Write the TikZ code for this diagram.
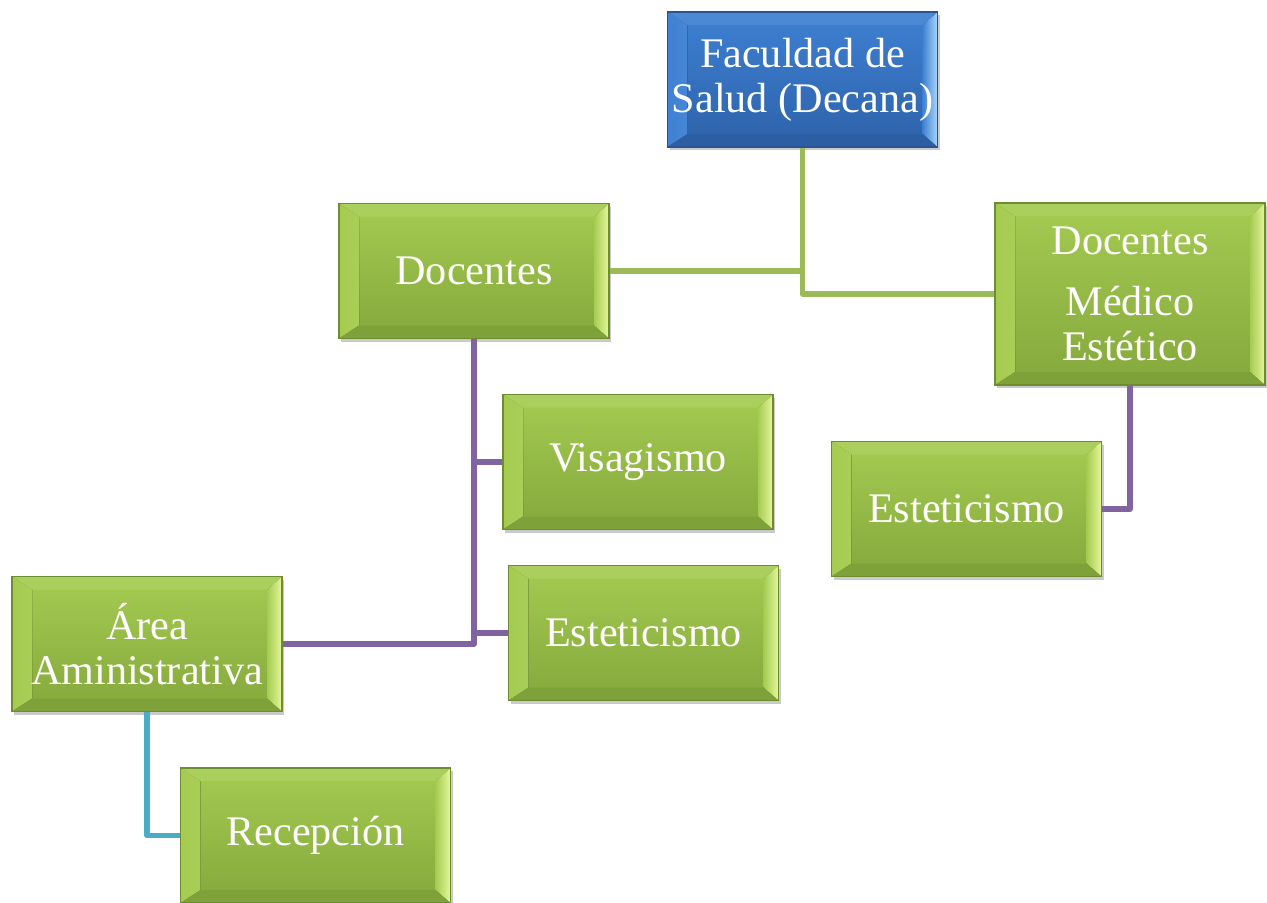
\documentclass[tikz,border=0pt]{standalone}
\usepackage{fontspec}
\setmainfont{Liberation Serif}
\usetikzlibrary{calc,shadows}
\definecolor{verdeArr}{HTML}{A5CB51}
\definecolor{verdeAba}{HTML}{84A83C}
\definecolor{verdeClaro}{HTML}{E6F79C}
\definecolor{verdeBorde}{HTML}{6E8C30}
\definecolor{azulArr}{HTML}{3E80D2}
\definecolor{azulAba}{HTML}{2D62AA}
\definecolor{azulClaro}{HTML}{A9D6FA}
\definecolor{azulBorde}{HTML}{2A5490}
\definecolor{lineaVerde}{HTML}{9BBB59}
\definecolor{lineaMorada}{HTML}{8064A2}
\definecolor{lineaCian}{HTML}{4BACC6}
\newcommand{\bisel}[3]{%
	\fill[left color=#2,right color=#1] (path picture bounding box.north west) -- (path picture bounding box.south west) -- ++(0.2,0.13) -- ($(path picture bounding box.north west)+(0.2,-0.13)$) -- cycle;
	\fill[left color=#2,right color=#1] (path picture bounding box.north east) -- (path picture bounding box.south east) -- ++(-0.15,0.13) -- ($(path picture bounding box.north east)+(-0.15,-0.13)$) -- cycle;
	\fill[#2!93!white] (path picture bounding box.north west) -- (path picture bounding box.north east) -- ++(-0.15,-0.13) -- ($(path picture bounding box.north west)+(0.2,-0.13)$) -- cycle;
	\fill[#3!96!black] (path picture bounding box.south west) -- (path picture bounding box.south east) -- ++(-0.15,0.13) -- ($(path picture bounding box.south west)+(0.2,0.13)$) -- cycle;
}
\begin{document}
\begin{tikzpicture}[
		caja/.style={rectangle, minimum width=2.7cm, minimum height=1.35cm, align=center, text=white, inner sep=1pt,
			font=\fontsize{12}{12.8}\selectfont, line width=0.5pt,
			drop shadow={shadow xshift=0.02cm, shadow yshift=-0.03cm, opacity=0.35, fill=black!60}},
		cajaverde/.style={caja, draw=verdeBorde, top color=verdeArr, bottom color=verdeAba,
			path picture={\bisel{verdeClaro}{verdeArr}{verdeAba}}},
		cajaazul/.style={caja, draw=azulBorde, top color=azulArr, bottom color=azulAba,
			path picture={\bisel{azulClaro}{azulArr}{azulAba}}},
		linea/.style={line width=1.6pt, line join=round}
	]
	\useasboundingbox (0,0) rectangle (12.67,-9.02);
	\node [cajaazul] (decana) at (8.025,-0.795) {Faculdad de\\Salud (Decana)};
	\node [cajaverde] (docentes) at (4.74,-2.71) {Docentes};
	\node [cajaverde, minimum height=1.82cm] (medico) at (11.30,-2.94) {Docentes\\[4.6pt]Médico\\Estético};
	\node [cajaverde] (visagismo) at (6.38,-4.62) {Visagismo};
	\node [cajaverde] (estetDer) at (9.665,-5.09) {Esteticismo};
	\node [cajaverde] (estetCen) at (6.435,-6.33) {Esteticismo};
	\node [cajaverde] (area) at (1.47,-6.44) {Área\\Aministrativa};
	\node [cajaverde] (recepcion) at (3.155,-8.355) {Recepción};
	\draw [linea, lineaVerde] (decana.south) |- (medico.west);
	\draw [linea, lineaVerde] (docentes.east) -- (decana.south |- docentes.east);
	\draw [linea, lineaMorada] (docentes.south) -- (docentes.south |- area.east) -- (area.east);
	\draw [linea, lineaMorada] (docentes.south |- visagismo.west) -- (visagismo.west);
	\draw [linea, lineaMorada] (docentes.south |- estetCen.west) -- (estetCen.west);
	\draw [linea, lineaMorada] (medico.south) |- (estetDer.east);
	\draw [linea, lineaCian] (area.south) |- (recepcion.west);
\end{tikzpicture}
\end{document}
